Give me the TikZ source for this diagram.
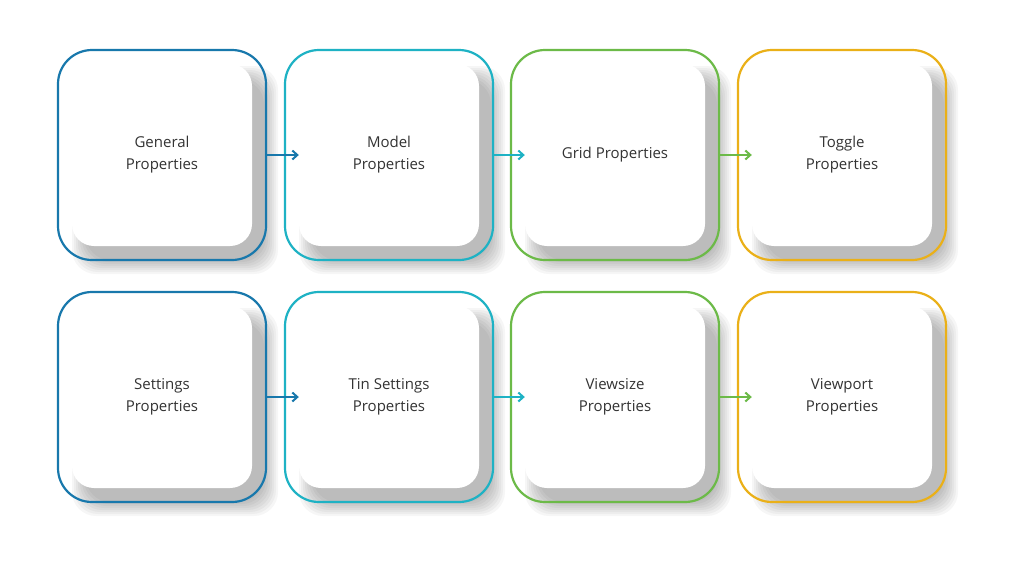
\documentclass[tikz,border=0pt]{standalone}
\usepackage{fontspec}
\setmainfont{Open Sans}
\usetikzlibrary{arrows.meta}
\definecolor{cblue}{RGB}{24,120,172}
\definecolor{cteal}{RGB}{30,178,196}
\definecolor{cgreen}{RGB}{108,186,72}
\definecolor{cyellow}{RGB}{234,176,24}
\tikzset{
  frame/.style={draw=#1, line width=2.2pt, rounded corners=34pt, minimum width=208pt, minimum height=210pt},
  card/.style={fill=white, rounded corners=22pt, minimum width=180pt, minimum height=182pt,
    align=center, font=\fontsize{15}{22}\selectfont, text=black!80},
  shade/.style={fill=black, opacity=0.035, rounded corners=#1},
  link/.style={-{Straight Barb[length=5pt,width=9pt]}, line width=2pt, draw=#1}
}
\begin{document}
\begin{tikzpicture}[x=1pt,y=-1pt]
\useasboundingbox[fill=white] (0,0) rectangle (1024,576);
% soft shadows
\foreach \cx in {162,389,615,842}
  \foreach \cy in {155,397}
    \foreach \s in {0,2,...,14}
      \fill[shade=24] (\cx-88+12-\s,\cy-89+14-\s) rectangle (\cx+90+12+\s,\cy+91+14+\s);
% top row
\node[frame=cblue] (f1) at (162,155) {};
\node[frame=cteal] (f2) at (389,155) {};
\node[frame=cgreen] (f3) at (615,155) {};
\node[frame=cyellow] (f4) at (842,155) {};
\node[card] (c1) at (162,155) {General\\Properties};
\node[card] (c2) at (389,155) {Model\\Properties};
\node[card] (c3) at (615,155) {Grid Properties};
\node[card] (c4) at (842,155) {Toggle\\Properties};
% bottom row
\node[frame=cblue] (f5) at (162,397) {};
\node[frame=cteal] (f6) at (389,397) {};
\node[frame=cgreen] (f7) at (615,397) {};
\node[frame=cyellow] (f8) at (842,397) {};
\node[card] (c5) at (162,397) {Settings\\Properties};
\node[card] (c6) at (389,397) {Tin Settings\\Properties};
\node[card] (c7) at (615,397) {Viewsize\\Properties};
\node[card] (c8) at (842,397) {Viewport\\Properties};
% connectors
\draw[link=cblue] (f1.east) -- (c2.west);
\draw[link=cteal] (f2.east) -- (c3.west);
\draw[link=cgreen] (f3.east) -- (c4.west);
\draw[link=cblue] (f5.east) -- (c6.west);
\draw[link=cteal] (f6.east) -- (c7.west);
\draw[link=cgreen] (f7.east) -- (c8.west);
\end{tikzpicture}
\end{document}
